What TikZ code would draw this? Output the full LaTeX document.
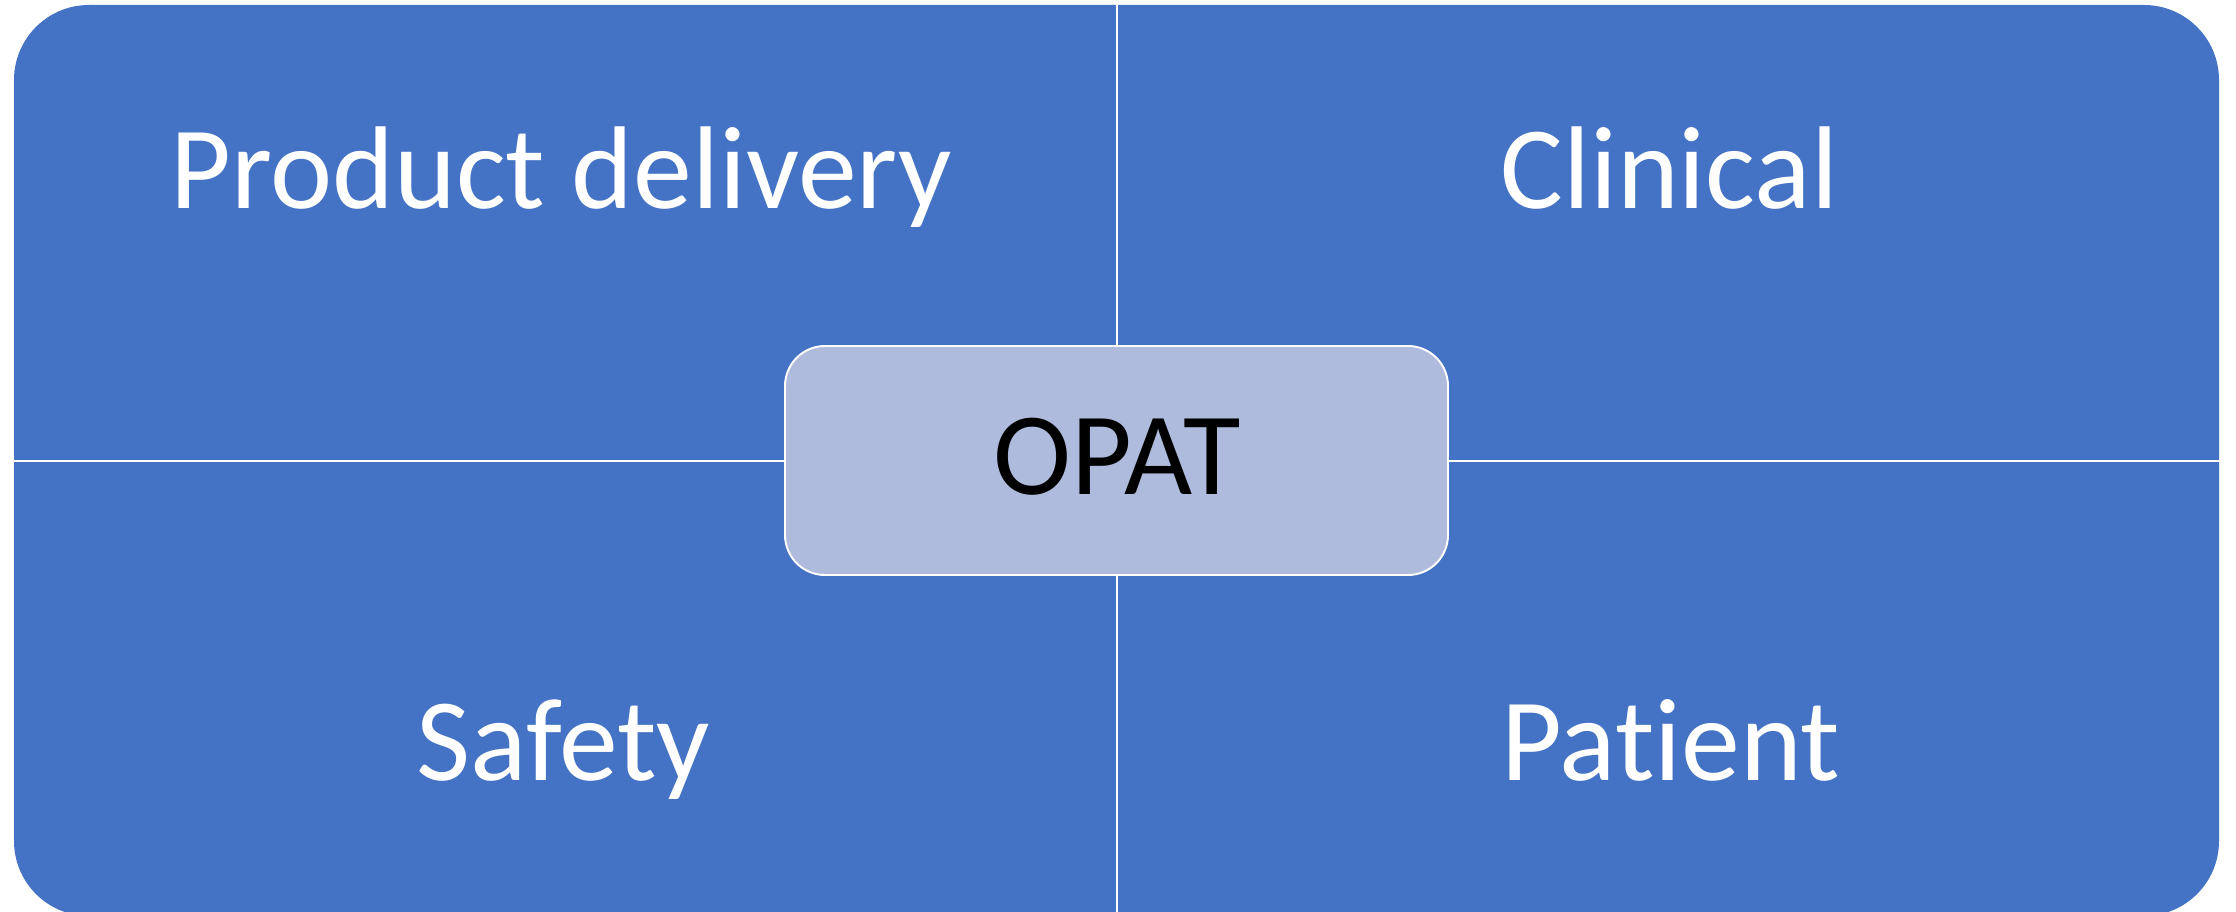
\documentclass[tikz,border=0pt]{standalone}
\usepackage{fontspec}
\setmainfont{Carlito}[Ligatures={NoCommon}]
\definecolor{quadblue}{HTML}{4472C4}
\definecolor{hubfill}{HTML}{AFBBDD}
\tikzset{
  quadlabel/.style={anchor=base west, inner sep=0pt, text=white, font=\fontsize{67}{80}\selectfont},
  hublabel/.style={anchor=base, inner sep=0pt, text=black, font=\fontsize{67}{80}\selectfont}
}

\begin{document}
\begin{tikzpicture}[x=0.02cm, y=-0.02cm]
			%%%%% START %%%%%
			
			\useasboundingbox (0, 0) rectangle (2236, 912);
			\clip (0, 0) rectangle (2236, 912);
			
			% matrix background
			\draw[fill=quadblue, draw=none, rounded corners=1.5cm] (14, 5) rectangle (2219, 916);
			
			% dividers
			\draw[white, line width=1.6pt] (1117, 5) -- (1117, 916);
			\draw[white, line width=1.6pt] (14, 461) -- (2219, 461);
			
			% quadrant labels
			\node[quadlabel] (delivery) at (170, 209) {Product delivery};
			\node[quadlabel] (clinical) at (1500, 209) {Clinical};
			\node[quadlabel] (safety) at (416, 780) {Safety};
			\node[quadlabel] (patient) at (1501, 780) {Patient};
			
			% centre box
			\draw[fill=hubfill, draw=white, line width=1.1pt, rounded corners=0.8cm] (785, 346) rectangle (1448, 575);
			\node[hublabel] (opat) at (1117, 494) {OPAT};
			
			%%%%% END %%%%%
\end{tikzpicture}
\end{document}
